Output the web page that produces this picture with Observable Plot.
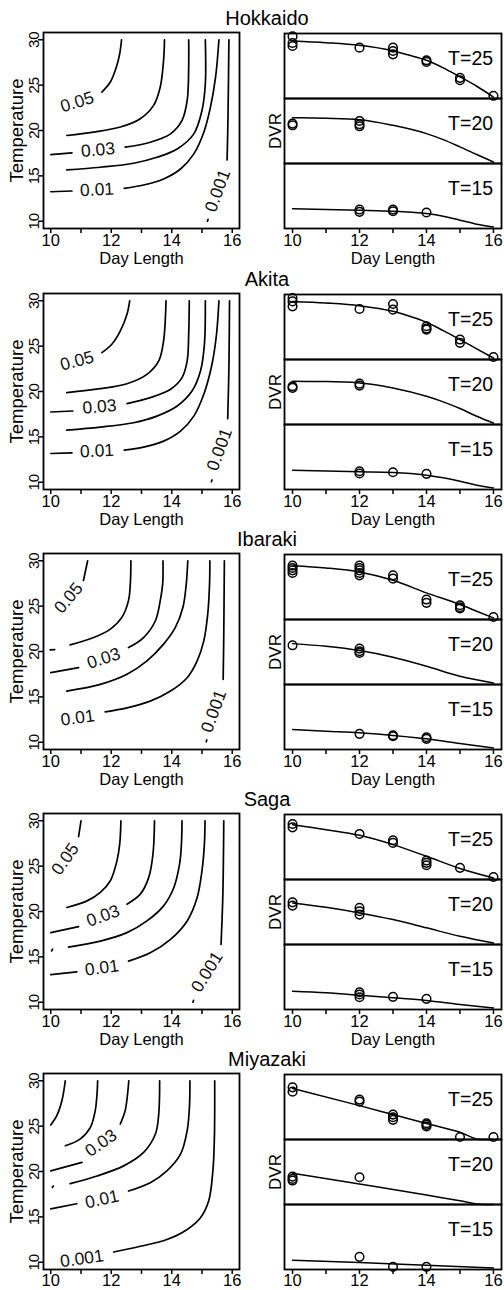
<!DOCTYPE html>
<html><head><meta charset="utf-8">
<script src="https://cdn.jsdelivr.net/npm/d3@7"></script>
<script src="https://cdn.jsdelivr.net/npm/@observablehq/plot@0.6"></script>
<style>
body{margin:0;background:#fff;}
#fig{position:relative;width:504px;height:1290px;overflow:hidden;background:#fff;font-family:"Liberation Sans",Arial,Helvetica,sans-serif;}
#fig svg{position:absolute;overflow:visible;}
.title{position:absolute;width:300px;text-align:center;font-size:20px;line-height:20px;color:#000;white-space:nowrap;}
</style></head><body><div id="fig"></div>
<script>
// ---------- categories / ticks ----------
const siteNames = ["Hokkaido", "Akita", "Ibaraki", "Saga", "Miyazaki"];
const dayLengthTicks = [10, 11, 12, 13, 14, 15, 16];
const temperatureTicks = [10, 15, 20, 25, 30];
const temperaturePanels = [25, 20, 15];

// ---------- contour segments: [level, [[dayLength, temperature], ...]] ----------
const hokkaidoContours = [
  ["0.05", [[11.69,24.24],[11.97,25.34],[12.17,27.0],[12.28,28.48],[12.34,30]]],
  ["0.04", [[10.53,19.45],[11.41,19.82],[12.30,20.38],[12.96,21.30],[13.40,22.77],[13.62,24.80],[13.73,27.74],[13.76,30]]],
  ["0.03", [[10.0,17.35],[10.70,17.53]]],
  ["0.03", [[12.46,18.16],[13.29,18.71],[13.96,19.63],[14.34,21.11],[14.51,23.31],[14.56,27.0],[14.56,30]]],
  ["0.02", [[10.53,15.65],[11.64,15.95],[12.74,16.39],[13.51,17.05],[14.18,17.97],[14.73,19.63],[15.0,22.21],[15.11,25.15],[15.11,30]]],
  ["0.01", [[10.0,13.25],[10.70,13.33]]],
  ["0.01", [[12.43,13.62],[13.07,13.99],[13.73,14.66],[14.29,15.76],[14.73,17.42],[15.06,19.81],[15.28,22.58],[15.45,25.9],[15.56,30]]],
  ["0.001", [[15.83,16.76],[15.86,21.47],[15.89,30]]],
  ["0.001", [[15.18,10.0],[15.2,10.2]]]
];
const akitaContours = [
  ["0.05", [[11.69,24.29],[12.02,25.21],[12.30,26.68],[12.52,28.52],[12.61,30]]],
  ["0.04", [[10.53,19.87],[11.64,20.31],[12.52,20.86],[13.18,21.89],[13.57,23.37],[13.73,25.57],[13.79,28.15],[13.81,30]]],
  ["0.03", [[10.0,17.74],[10.73,17.85]]],
  ["0.03", [[12.52,18.66],[13.29,19.32],[13.96,20.24],[14.34,21.53],[14.51,23.37],[14.56,26.31],[14.58,30]]],
  ["0.02", [[10.53,15.75],[11.64,16.08],[12.74,16.56],[13.51,17.29],[14.18,18.40],[14.67,20.05],[14.95,22.26],[15.08,25.2],[15.11,30]]],
  ["0.01", [[10.0,13.17],[10.70,13.24]]],
  ["0.01", [[12.43,13.54],[13.07,13.87],[13.73,14.53],[14.29,15.64],[14.73,17.29],[15.06,19.69],[15.33,23.0],[15.48,26.31],[15.56,30]]],
  ["0.001", [[15.85,17.0],[15.89,22.63],[15.91,30]]],
  ["0.001", [[15.31,10.05],[15.33,10.25]]]
];
const ibarakiContours = [
  ["0.05", [[11.08,27.82],[11.22,30]]],
  ["0.04", [[9.98,20.18],[10.13,20.21]]],
  ["0.04", [[10.64,20.73],[11.42,21.54],[11.97,22.47],[12.35,23.76],[12.57,25.61],[12.63,27.45],[12.65,30]]],
  ["0.03", [[10.0,17.67],[10.92,18.22]]],
  ["0.03", [[12.57,20.44],[13.07,21.54],[13.46,23.39],[13.62,25.61],[13.70,27.45],[13.71,30]]],
  ["0.02", [[10.53,15.64],[11.64,16.37],[12.52,17.48],[13.18,18.96],[13.73,20.81],[14.12,22.65],[14.37,24.87],[14.48,27.45],[14.53,30]]],
  ["0.01", [[11.80,13.35],[12.52,13.79],[13.29,14.53],[13.96,15.64],[14.51,17.11],[14.84,18.96],[15.06,21.17],[15.19,24.13],[15.25,27.45],[15.26,30]]],
  ["0.001", [[15.70,16.93],[15.72,21.91],[15.74,30]]],
  ["0.001", [[15.14,10.05],[15.16,10.25]]]
];
const sagaContours = [
  ["0.05", [[10.92,28.26],[11.0,30]]],
  ["0.04", [[10.53,20.44],[11.20,21.17],[11.64,22.10],[11.97,23.39],[12.19,25.61],[12.28,27.45],[12.32,30]]],
  ["0.03", [[10.0,17.67],[10.92,18.33]]],
  ["0.03", [[12.52,20.81],[12.96,21.91],[13.24,23.76],[13.38,26.34],[13.43,30]]],
  ["0.02", [[10.03,15.65],[10.06,15.85]]],
  ["0.02", [[10.59,16.08],[11.64,16.74],[12.52,17.67],[13.18,18.96],[13.73,20.62],[14.07,22.65],[14.26,25.24],[14.32,27.45],[14.34,30]]],
  ["0.01", [[10.0,13.05],[10.86,13.35]]],
  ["0.01", [[12.57,14.53],[13.29,15.45],[13.96,16.93],[14.51,18.96],[14.84,21.54],[15.0,24.50],[15.08,27.45],[15.10,30]]],
  ["0.001", [[15.63,16.37],[15.69,21.91],[15.72,30]]],
  ["0.001", [[14.70,10.0],[14.72,10.2]]]
];
const miyazakiContours = [
  ["0.05", [[10.0,25.13],[10.20,26.16],[10.37,27.82],[10.48,30]]],
  ["0.04", [[10.48,22.84],[10.97,23.57],[11.31,24.87],[11.47,26.71],[11.53,28.56],[11.55,30]]],
  ["0.03", [[10.0,20.07],[11.03,21.0]]],
  ["0.03", [[12.30,25.24],[12.46,26.71],[12.54,28.56],[12.58,30]]],
  ["0.02", [[10.05,18.25],[10.09,18.4]]],
  ["0.02", [[10.64,18.66],[11.53,19.51],[12.41,20.62],[13.07,22.10],[13.46,24.13],[13.57,26.34],[13.60,30]]],
  ["0.01", [[10.0,15.89],[10.86,16.45]]],
  ["0.01", [[12.57,17.85],[13.29,18.77],[13.84,20.07],[14.29,21.91],[14.51,24.50],[14.59,27.45],[14.60,30]]],
  ["0.001", [[12.08,11.13],[12.96,11.76],[13.84,12.50],[14.51,13.61],[14.95,14.90],[15.22,16.74],[15.36,20.07],[15.41,23.76],[15.42,30]]]
];

// ---------- contour labels: [text, dayLength, temperature, angle] ----------
const hokkaidoLabels = [["0.05",10.87,23.13,-17],["0.03",11.56,17.86,-5],["0.01",11.53,13.48,-3],["0.001",15.52,13.37,-70]];
const akitaLabels = [["0.05",10.87,23.37,-15],["0.03",11.61,18.32,-5],["0.01",11.53,13.43,-3],["0.001",15.58,13.62,-70]];
const ibarakiLabels = [["0.05",10.59,25.9,-50],["0.03",11.75,19.25,-18],["0.01",10.89,12.68,-8],["0.001",15.39,13.42,-70]];
const sagaLabels = [["0.05",10.48,25.79,-55],["0.03",11.73,19.51,-20],["0.01",11.69,13.79,-8],["0.001",15.17,13.35,-58]];
const miyazakiLabels = [["0.03",11.66,23.13,-35],["0.01",11.69,16.93,-12],["0.001",11.03,10.39,-8]];

// ---------- observed DVR: [T, dayLength, DVR] ----------
const hokkaidoObs = [
  [25,10,0.0598],[25,10,0.0532],[25,10,0.0502],[25,12,0.0485],[25,13,0.0485],[25,13,0.0452],[25,13,0.0418],
  [25,14,0.0358],[25,14,0.0342],[25,15,0.0182],[25,15,0.0158],[25,16,0.0002],
  [20,10,0.0375],[20,10,0.0358],[20,12,0.0402],[20,12,0.0368],[20,12,0.0348],
  [15,12,0.0165],[15,12,0.0142],[15,13,0.0165],[15,13,0.0148],[15,14,0.0135]
];
const akitaObs = [
  [25,10,0.0592],[25,10,0.0558],[25,10,0.0508],[25,12,0.0482],[25,13,0.0532],[25,13,0.0475],
  [25,14,0.0308],[25,14,0.0285],[25,14,0.0275],[25,15,0.0175],[25,15,0.0142],[25,16,0.0],
  [20,10,0.0358],[20,10,0.0342],[20,12,0.0385],[20,12,0.0365],
  [15,12,0.0158],[15,12,0.0135],[15,13,0.0148],[15,14,0.0132]
];
const ibarakiObs = [
  [25,10,0.0515],[25,10,0.0492],[25,10,0.0468],[25,10,0.0442],
  [25,12,0.0515],[25,12,0.0492],[25,12,0.0468],[25,12,0.0442],[25,12,0.0418],
  [25,13,0.0418],[25,13,0.0385],[25,14,0.0175],[25,14,0.0142],[25,15,0.0118],[25,15,0.0098],[25,15,0.0085],[25,16,0.0],
  [20,10,0.0368],[20,12,0.0335],[20,12,0.0308],[20,12,0.0292],
  [15,12,0.0132],[15,13,0.0118],[15,13,0.0108],[15,14,0.0098],[15,14,0.0082]
];
const sagaObs = [
  [25,10,0.0532],[25,10,0.0498],[25,12,0.0432],[25,13,0.0368],[25,13,0.0342],
  [25,14,0.0165],[25,14,0.0142],[25,14,0.0118],[25,15,0.0092],[25,16,0.0],
  [20,10,0.0398],[20,10,0.0365],[20,12,0.0342],[20,12,0.0308],[20,12,0.0275],
  [15,12,0.0148],[15,12,0.0125],[15,12,0.0098],[15,13,0.0102],[15,14,0.0082]
];
const miyazakiObs = [
  [25,10,0.0498],[25,10,0.0455],[25,12,0.0375],[25,12,0.0355],[25,13,0.0225],[25,13,0.0198],[25,13,0.0172],
  [25,14,0.0138],[25,14,0.0122],[25,14,0.0105],[25,15,0.0],[25,16,0.0],
  [20,10,0.0255],[20,10,0.0232],[20,10,0.0215],[20,12,0.0248],
  [15,12,0.0102],[15,13,0.0002],[15,14,0.0002]
];

// ---------- fitted DVR curves: [T, dayLength, DVR] ----------
const hokkaidoFit = [
  [25,10,0.0552],[25,11,0.0535],[25,12,0.0508],[25,13,0.0452],[25,13.5,0.0408],[25,14,0.0358],[25,14.5,0.0282],[25,15,0.0192],[25,15.5,0.0098],[25,16,-0.001],
  [20,10,0.0435],[20,11,0.0428],[20,12,0.0415],[20,13,0.0358],[20,14,0.0275],[20,14.5,0.0215],[20,15,0.0142],[20,15.5,0.0065],[20,16,-0.001],
  [15,10,0.0172],[15,12,0.0158],[15,13,0.0148],[15,14,0.0125],[15,14.5,0.0098],[15,15,0.0058],[15,15.5,0.0018],[15,16,-0.001]
];
const akitaFit = [
  [25,10,0.0558],[25,11,0.0542],[25,12,0.0515],[25,13,0.0458],[25,13.5,0.0408],[25,14,0.0348],[25,14.5,0.0265],[25,15,0.0175],[25,15.5,0.0082],[25,16,-0.001],
  [20,10,0.0408],[20,11,0.0406],[20,12,0.0392],[20,13,0.0342],[20,14,0.0258],[20,14.5,0.0202],[20,15,0.0135],[20,15.5,0.0058],[20,16,-0.001],
  [15,10,0.0168],[15,12,0.0152],[15,13,0.0145],[15,14,0.0118],[15,14.5,0.0092],[15,15,0.0058],[15,15.5,0.0018],[15,16,-0.001]
];
const ibarakiFit = [
  [25,10,0.0515],[25,11,0.0492],[25,12,0.0452],[25,13,0.0368],[25,14,0.0242],[25,15,0.0125],[25,15.5,0.0058],[25,16,-0.001],
  [20,10,0.0385],[20,11,0.0358],[20,12,0.0315],[20,13,0.0248],[20,14,0.0158],[20,15,0.0058],[20,16,-0.001],
  [15,10,0.0175],[15,11,0.0158],[15,12,0.0142],[15,13,0.0115],[15,14,0.0082],[15,15,0.0035],[15,16,-0.001]
];
const sagaFit = [
  [25,10,0.0525],[25,11,0.0475],[25,12,0.0418],[25,13,0.0325],[25,14,0.0208],[25,15,0.0085],[25,16,-0.001],
  [20,10,0.0392],[20,11,0.0348],[20,12,0.0292],[20,13,0.0225],[20,14,0.0142],[20,15,0.0058],[20,16,-0.001],
  [15,10,0.0158],[15,11,0.0142],[15,12,0.0118],[15,13,0.0092],[15,14,0.0065],[15,15,0.0025],[15,16,-0.001]
];
const miyazakiFit = [
  [25,10,0.0488],[25,12,0.0315],[25,13,0.0225],[25,14,0.0135],[25,15,0.0048],[25,15.6,-0.0025],[25,16,-0.0025],
  [20,10,0.0288],[20,12,0.0180],[20,14,0.0070],[20,15,0.0012],[20,15.7,-0.0025],[20,16,-0.0025],
  [15,10,0.0068],[15,12,0.0045],[15,14,0.0018],[15,16,-0.001]
];

// ---------- tables built from the arrays ----------
const contourTable = [hokkaidoContours, akitaContours, ibarakiContours, sagaContours, miyazakiContours];
const labelTable = [hokkaidoLabels, akitaLabels, ibarakiLabels, sagaLabels, miyazakiLabels];
const obsTable = [hokkaidoObs, akitaObs, ibarakiObs, sagaObs, miyazakiObs];
const fitTable = [hokkaidoFit, akitaFit, ibarakiFit, sagaFit, miyazakiFit];

// ---------- layout ----------
const rowTops = [32, 293, 553, 813, 1073];
const FONT = '"Liberation Sans", Arial, Helvetica, sans-serif';
const evenFormat = d => (d % 2 === 0 ? String(d) : "");

function contourPlot(segments, labels, showXLabel) {
  const pad = showXLabel ? 1 : 0;
  const pts = segments.flatMap(([level, p], i) => p.map(([dl, t]) => ({id: i, level, dl, t})));
  const marks = [
    Plot.line(pts, {x: "dl", y: "t", z: "id", curve: "catmull-rom", stroke: "#000", strokeWidth: 1.7}),
    Plot.text(labels, {x: d => d[1], y: d => d[2], text: d => d[0], rotate: d => d[3], fontSize: 17.5, fill: "#111"}),
    Plot.frame({stroke: "#000", strokeWidth: 1.8}),
    Plot.axisX({ticks: dayLengthTicks, tickFormat: evenFormat, tickSize: 5, tickPadding: pad, fontSize: 16.5, label: null, strokeWidth: 1.5}),
    Plot.axisY({ticks: temperatureTicks, tickRotate: -90, tickSize: 5, tickPadding: 0, fontSize: 15, label: null, strokeWidth: 1.5}),
    Plot.text(["Temperature"], {frameAnchor: "left", rotate: -90, dx: -21, textAnchor: "middle", lineAnchor: "bottom", fontSize: 18.5})
  ];
  if (showXLabel) marks.push(Plot.text(["Day Length"], {frameAnchor: "bottom", dy: 35.5, textAnchor: "middle", lineAnchor: "bottom", fontSize: 16.5}));
  return Plot.plot({
    width: 245, height: 244, marginLeft: 43, marginRight: 6, marginTop: 8, marginBottom: 40,
    x: {domain: [9.76, 16.24]},
    y: {domain: [9.2, 30.8]},
    style: {fontFamily: FONT, fontSize: "17px", color: "#000", background: "transparent"},
    marks
  });
}

function dvrPlot(obs, fit, showXLabel) {
  const pad = showXLabel ? 1 : 0;
  const obsData = obs.map(([T, dl, dvr]) => ({T, dl, dvr}));
  const fitData = fit.map(([T, dl, dvr]) => ({T, dl, dvr}));
  const marks = [
    Plot.line(fitData, {x: "dl", y: "dvr", fy: "T", curve: "monotone-x", stroke: "#000", strokeWidth: 1.5}),
    Plot.dot(obsData, {x: "dl", y: "dvr", fy: "T", r: 4.3, stroke: "#000", strokeWidth: 1.5, fill: "none"}),
    Plot.frame({stroke: "#000", strokeWidth: 1.8}),
    Plot.text(temperaturePanels, {fy: d => d, text: d => "T=" + d, frameAnchor: "top-right", dx: -8.4, dy: 25, textAnchor: "end", lineAnchor: "middle", fontSize: 19.5}),
    Plot.text([20], {fy: d => d, text: () => "DVR", frameAnchor: "left", rotate: -90, dx: -3.5, textAnchor: "middle", lineAnchor: "bottom", fontSize: 17}),
    Plot.axisX({ticks: dayLengthTicks, tickFormat: evenFormat, tickSize: 5, tickPadding: pad, fontSize: 16.5, label: null, strokeWidth: 1.5})
  ];
  if (showXLabel) marks.push(Plot.text([15], {fy: d => d, text: () => "Day Length", frameAnchor: "bottom", dy: 35.5, textAnchor: "middle", lineAnchor: "bottom", fontSize: 16.5}));
  return Plot.plot({
    width: 254, height: 244, marginLeft: 34, marginRight: 3, marginTop: 8, marginBottom: 40,
    x: {domain: [9.76, 16.24]},
    y: {domain: [-0.0025, 0.0627], axis: null},
    fy: {domain: temperaturePanels, padding: 0, axis: null},
    style: {fontFamily: FONT, fontSize: "17px", color: "#000", background: "transparent"},
    marks
  });
}

const fig = document.getElementById("fig");
siteNames.forEach((name, i) => {
  const top = rowTops[i];
  const last = i === siteNames.length - 1;
  const left = contourPlot(contourTable[i], labelTable[i], !last);
  left.style.left = "0px"; left.style.top = (top - 8) + "px";
  fig.appendChild(left);
  const right = dvrPlot(obsTable[i], fitTable[i], !last);
  right.style.left = "250px"; right.style.top = (top - 8) + "px";
  fig.appendChild(right);
  const t = document.createElement("div");
  t.className = "title";
  t.textContent = name;
  t.style.left = "117px";
  t.style.top = (top - 24.4) + "px";
  fig.appendChild(t);
});
</script></body></html>
